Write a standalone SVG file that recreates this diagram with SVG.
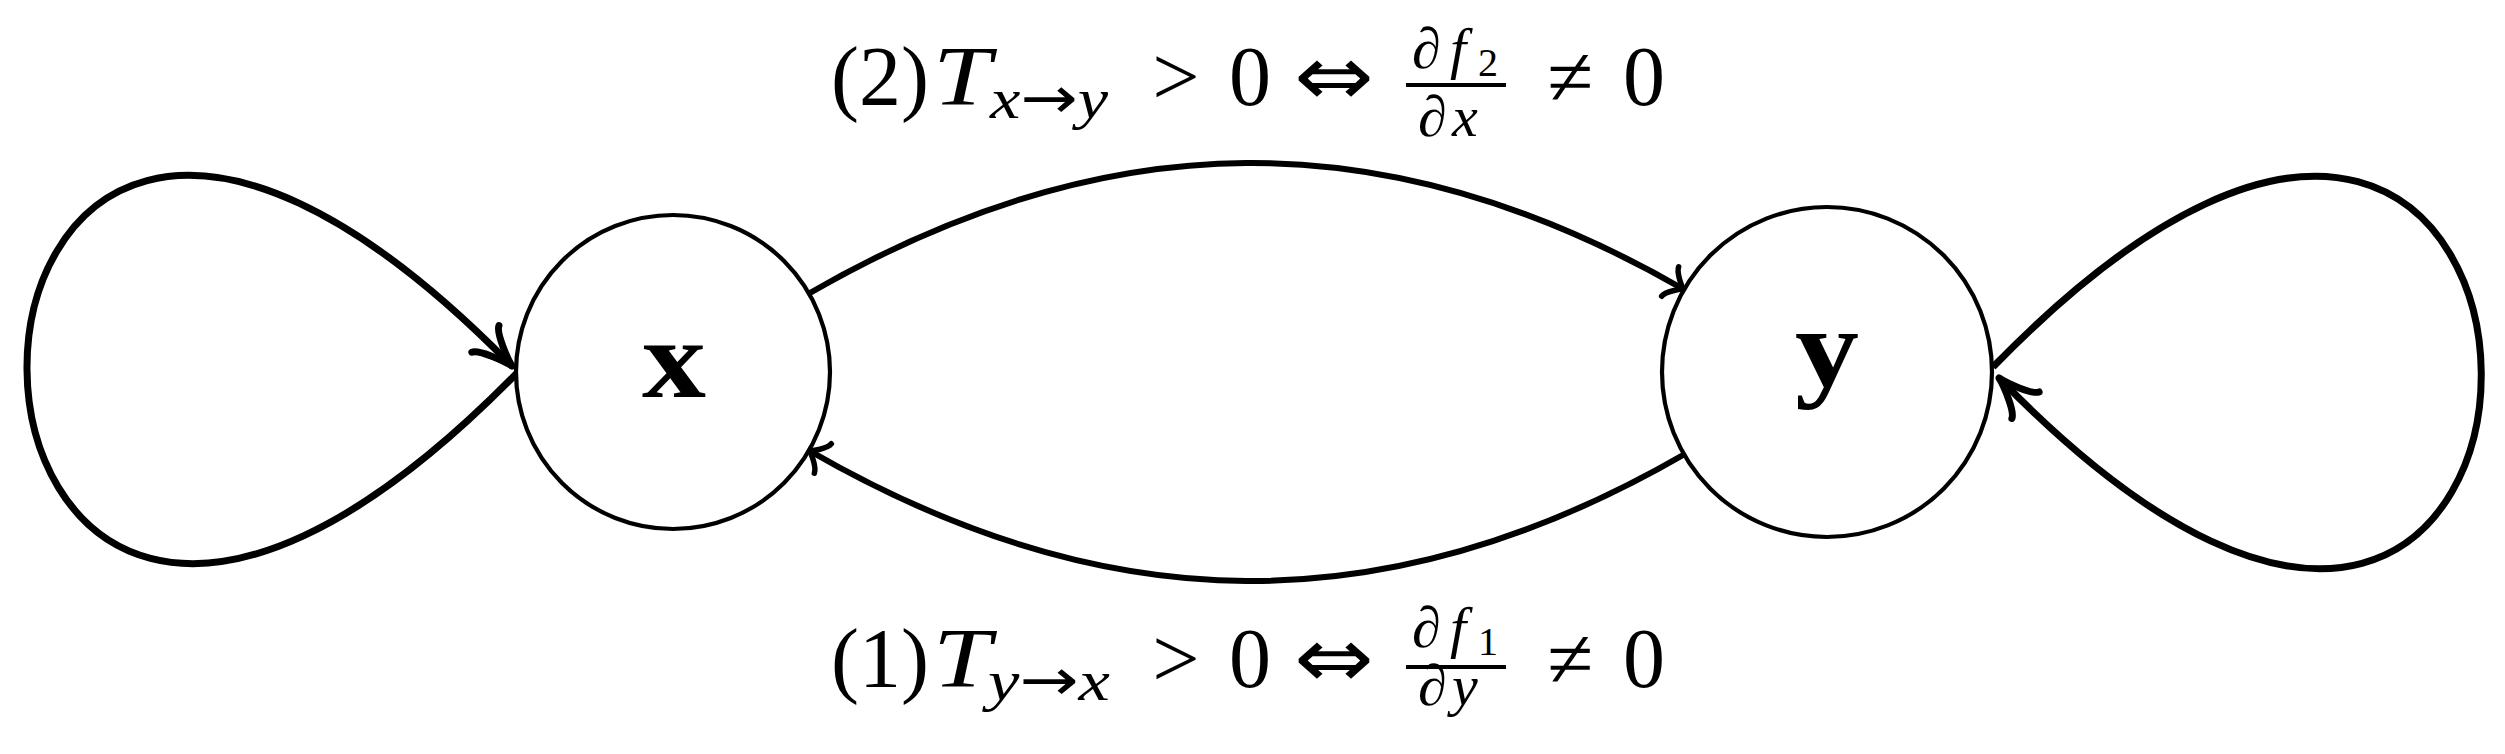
<svg xmlns="http://www.w3.org/2000/svg" width="2505" height="754" viewBox="0 0 2505 754">
<style>
.bg{fill:#fff}
.node circle{fill:#fff;stroke:#000;stroke-width:4.2}
.nl{font-family:"Liberation Serif","DejaVu Serif",serif;font-weight:bold;font-size:112px;text-anchor:middle;fill:#000}
.edge{fill:none;stroke:#000;stroke-width:6}
.loop{fill:none;stroke:#000;stroke-width:7}
.t{font-family:"Liberation Serif","DejaVu Serif",serif;fill:#000}
.m{font-size:84px}
.s{font-size:58px}
.ss{font-size:40px}
.c{text-anchor:middle}
.i{font-style:italic}
.ar{font-family:"DejaVu Sans",sans-serif;font-style:normal}
.bar{stroke:#000;stroke-width:4}
</style>
<defs>
<marker id="ah" markerUnits="userSpaceOnUse" orient="auto" refX="0" refY="0" markerWidth="40" markerHeight="40" overflow="visible">
<path d="M -16,17 C -15,10.75 -3.2,1.1 0,0 C -3.2,-1.1 -15,-10.75 -16,-17" fill="none" stroke="#000" stroke-width="5.5" stroke-linecap="round" stroke-linejoin="round"/>
</marker>
<marker id="ahl" markerUnits="userSpaceOnUse" orient="auto" refX="0" refY="0" markerWidth="60" markerHeight="60" overflow="visible">
<path d="M -38,19 C -35,12 -9,2 0,0 C -9,-2 -35,-12 -38,-19" fill="none" stroke="#000" stroke-width="7" stroke-linecap="round" stroke-linejoin="round"/>
</marker>
</defs>
<rect class="bg" x="0" y="0" width="2505" height="754"/>
<g id="connectors">
<path class="loop" d="M 517 373 C -133 1036 -138 -297 512 366" marker-end="url(#ahl)"/>
<path class="loop" d="M 1993 367 C 2640 -298 2646 1043 1999 378" marker-end="url(#ahl)"/>
<path class="edge" d="M 809 293.5 C 1105.7 122.2 1387.3 118.2 1684 289.5" marker-end="url(#ah)"/>
<path class="edge" d="M 1684 454.5 C 1387.3 625.8 1105.7 621.8 809 450.5" marker-end="url(#ah)"/>
</g>
<g id="node-x" class="node">
<circle cx="673" cy="372" r="157"/>
<text class="nl" x="674" y="397" textLength="64" lengthAdjust="spacingAndGlyphs">x</text>
</g>
<g id="node-y" class="node">
<circle cx="1827" cy="372" r="165"/>
<text class="nl" x="1827" y="386" textLength="64" lengthAdjust="spacingAndGlyphs">y</text>
</g>
<g id="label-top">
<text class="t m c" x="880" y="105">(2)</text>
<text class="t m i" x="933" y="105" textLength="58" lengthAdjust="spacingAndGlyphs">T</text>
<text class="t s" x="990" y="118" textLength="118" lengthAdjust="spacingAndGlyphs"><tspan class="i">x</tspan><tspan class="ar">→</tspan><tspan class="i">y</tspan></text>
<text class="t m c" x="1176" y="105">&gt;</text>
<text class="t m c" x="1250" y="105">0</text>
<text class="t m ar" x="1294" y="105" textLength="80" lengthAdjust="spacingAndGlyphs">⇔</text>
<text class="t s" x="1412" y="68">∂</text>
<text class="t s i" x="1450" y="68">f</text>
<text class="t ss" x="1478" y="76">2</text>
<line class="bar" x1="1406" y1="85" x2="1506" y2="85"/>
<text class="t s" x="1418" y="136">∂</text>
<text class="t s i" x="1452" y="136">x</text>
<text class="t m c" x="1570" y="105">≠</text>
<text class="t m c" x="1644" y="105">0</text>
</g>
<g id="label-bottom">
<text class="t m c" x="880" y="687">(1)</text>
<text class="t m i" x="933" y="687" textLength="58" lengthAdjust="spacingAndGlyphs">T</text>
<text class="t s" x="988" y="700" textLength="122" lengthAdjust="spacingAndGlyphs"><tspan class="i">y</tspan><tspan class="ar">→</tspan><tspan class="i">x</tspan></text>
<text class="t m c" x="1176" y="687">&gt;</text>
<text class="t m c" x="1250" y="687">0</text>
<text class="t m ar" x="1294" y="687" textLength="80" lengthAdjust="spacingAndGlyphs">⇔</text>
<text class="t s" x="1412" y="647">∂</text>
<text class="t s i" x="1450" y="647">f</text>
<text class="t ss" x="1478" y="655">1</text>
<line class="bar" x1="1406" y1="667" x2="1506" y2="667"/>
<text class="t s" x="1418" y="705">∂</text>
<text class="t s i" x="1452" y="705">y</text>
<text class="t m c" x="1570" y="687">≠</text>
<text class="t m c" x="1644" y="687">0</text>
</g>
</svg>
